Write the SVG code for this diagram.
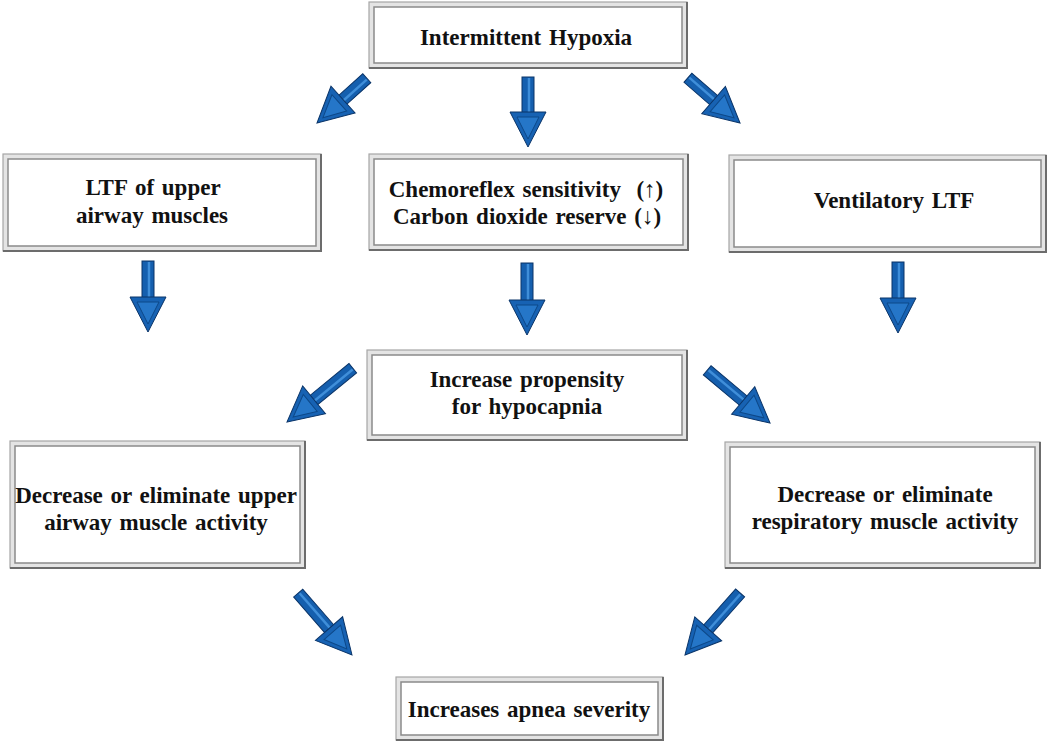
<svg xmlns="http://www.w3.org/2000/svg" xmlns:xlink="http://www.w3.org/1999/xlink" width="1050" height="742" viewBox="0 0 1050 742">
<style>
.frame{fill:#e4e4e4;stroke:#a6a6a6;stroke-width:1.2}
.inner{fill:#ffffff;stroke:#8a8a8a;stroke-width:1.5}
.shade{fill:none;stroke:#6c6c6c;stroke-width:2}
.lbl{font-family:"Liberation Serif","Times New Roman",serif;font-weight:bold;font-size:23px;fill:#111;text-anchor:middle;word-spacing:2px}
.shaft{fill:#155fae;stroke:#0a3468;stroke-width:1}
.ridge{stroke:#3f8ed9;stroke-width:2.5;fill:none}
.headO{fill:#1762b3;stroke:#0a3468;stroke-width:1}
.headI{fill:#2576c8;stroke:#0d4888;stroke-width:1}
</style>
<defs>
<g id="head">
<polygon class="headO" points="0,0 -35,-18 -35,18"/>
<polygon class="headI" points="-8,0 -30,-11 -30,11"/>
</g>
</defs>
<g id="connectors">
<g transform="translate(528,147) rotate(90)"><rect class="shaft" x="-70" y="-6" width="37" height="12"/><line class="ridge" x1="-69" y1="-1" x2="-34" y2="-1"/><use xlink:href="#head"/></g>
<g transform="translate(148,332) rotate(90)"><rect class="shaft" x="-71" y="-6" width="38" height="12"/><line class="ridge" x1="-70" y1="-1" x2="-34" y2="-1"/><use xlink:href="#head"/></g>
<g transform="translate(527,335) rotate(90)"><rect class="shaft" x="-72" y="-6" width="39" height="12"/><line class="ridge" x1="-71" y1="-1" x2="-34" y2="-1"/><use xlink:href="#head"/></g>
<g transform="translate(898,333) rotate(90)"><rect class="shaft" x="-71" y="-6" width="38" height="12"/><line class="ridge" x1="-70" y1="-1" x2="-34" y2="-1"/><use xlink:href="#head"/></g>
<g transform="translate(317,123) rotate(138)"><rect class="shaft" x="-67" y="-6" width="34" height="12"/><line class="ridge" x1="-66" y1="-1" x2="-34" y2="-1"/><use xlink:href="#head"/></g>
<g transform="translate(740,123) rotate(41)"><rect class="shaft" x="-69" y="-6" width="36" height="12"/><line class="ridge" x1="-68" y1="-1" x2="-34" y2="-1"/><use xlink:href="#head"/></g>
<g transform="translate(287,422) rotate(140.7)"><rect class="shaft" x="-85" y="-6" width="52" height="12"/><line class="ridge" x1="-84" y1="-1" x2="-34" y2="-1"/><use xlink:href="#head"/></g>
<g transform="translate(770,423) rotate(40)"><rect class="shaft" x="-82" y="-6" width="49" height="12"/><line class="ridge" x1="-81" y1="-1" x2="-34" y2="-1"/><use xlink:href="#head"/></g>
<g transform="translate(352,655) rotate(49)"><rect class="shaft" x="-82" y="-6" width="49" height="12"/><line class="ridge" x1="-81" y1="-1" x2="-34" y2="-1"/><use xlink:href="#head"/></g>
<g transform="translate(685,655) rotate(131.6)"><rect class="shaft" x="-83" y="-6" width="50" height="12"/><line class="ridge" x1="-82" y1="-1" x2="-34" y2="-1"/><use xlink:href="#head"/></g>
</g>
<g id="n-hypoxia">
<rect class="frame" x="369" y="2" width="318" height="66"/>
<rect class="inner" x="374" y="7" width="308" height="56"/>
<polyline class="shade" points="687,2 687,68 369,68"/>
<text class="lbl" x="526" y="45">Intermittent Hypoxia</text>
</g>
<g id="n-ltf-upper">
<rect class="frame" x="3" y="154" width="318" height="97"/>
<rect class="inner" x="8" y="159" width="308" height="87"/>
<polyline class="shade" points="321,154 321,251 3,251"/>
<text class="lbl" x="153" y="195">LTF of upper</text>
<text class="lbl" x="152" y="223">airway muscles</text>
</g>
<g id="n-chemo">
<rect class="frame" x="369" y="154" width="319" height="96"/>
<rect class="inner" x="374" y="159" width="309" height="86"/>
<polyline class="shade" points="688,154 688,250 369,250"/>
<text class="lbl" x="526" y="197" style="white-space:pre">Chemoreflex sensitivity  (↑)</text>
<text class="lbl" x="527" y="224">Carbon dioxide reserve (↓)</text>
</g>
<g id="n-vent">
<rect class="frame" x="729" y="155" width="317" height="97"/>
<rect class="inner" x="734" y="160" width="307" height="87"/>
<polyline class="shade" points="1046,155 1046,252 729,252"/>
<text class="lbl" x="894" y="208">Ventilatory LTF</text>
</g>
<g id="n-hypocapnia">
<rect class="frame" x="367" y="350" width="320" height="90"/>
<rect class="inner" x="372" y="355" width="310" height="80"/>
<polyline class="shade" points="687,350 687,440 367,440"/>
<text class="lbl" x="527" y="387">Increase propensity</text>
<text class="lbl" x="527" y="414">for hypocapnia</text>
</g>
<g id="n-dec-upper">
<rect class="frame" x="10" y="441" width="295" height="127"/>
<rect class="inner" x="15" y="446" width="285" height="117"/>
<polyline class="shade" points="305,441 305,568 10,568"/>
<text class="lbl" x="156" y="503">Decrease or eliminate upper</text>
<text class="lbl" x="156" y="530">airway muscle activity</text>
</g>
<g id="n-dec-resp">
<rect class="frame" x="725" y="442" width="315" height="126"/>
<rect class="inner" x="730" y="447" width="305" height="116"/>
<polyline class="shade" points="1040,442 1040,568 725,568"/>
<text class="lbl" x="885" y="502">Decrease or eliminate</text>
<text class="lbl" x="885" y="529">respiratory muscle activity</text>
</g>
<g id="n-apnea">
<rect class="frame" x="396" y="677" width="267" height="63"/>
<rect class="inner" x="401" y="682" width="257" height="53"/>
<polyline class="shade" points="663,677 663,740 396,740"/>
<text class="lbl" x="529" y="717">Increases apnea severity</text>
</g>
</svg>
